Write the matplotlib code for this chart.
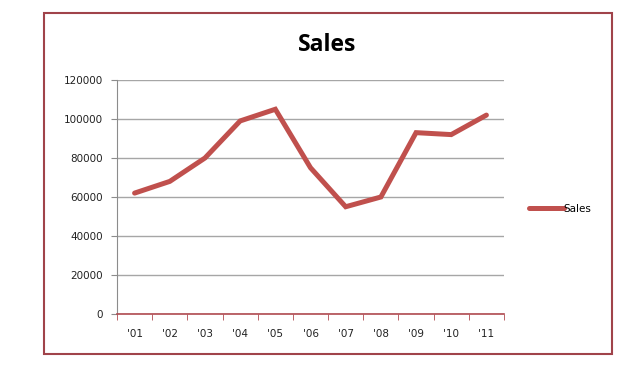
import matplotlib
matplotlib.use("Agg")
import matplotlib.pyplot as plt
from matplotlib.patches import Rectangle

years = ["'01", "'02", "'03", "'04", "'05", "'06", "'07", "'08", "'09", "'10", "'11"]
sales = [62000, 68000, 80000, 99000, 105000, 75000, 55000, 60000, 93000, 92000, 102000]
y_ticks = [0, 20000, 40000, 60000, 80000, 100000, 120000]

W, H = 635, 384
fig = plt.figure(figsize=(W / 100, H / 100), dpi=100)

# outer chart border
fig.patches.append(Rectangle((44 / W, 1 - 354 / H), (612 - 44) / W, (354 - 13) / H,
                             transform=fig.transFigure, fill=False,
                             edgecolor="#A0434A", linewidth=1.5))

ax = fig.add_axes([117 / W, 1 - 314 / H, (504 - 117) / W, (314 - 80) / H])
x = list(range(len(years)))
ax.plot(x, sales, color="#C0504D", linewidth=3.6, label="Sales",
        solid_capstyle="round", solid_joinstyle="miter")

ax.set_xlim(-0.5, len(years) - 0.5)
ax.set_ylim(0, 120000)
ax.set_yticks(y_ticks)
ax.set_yticklabels([str(v) for v in y_ticks])
ax.set_xticks(x)
ax.set_xticklabels(years)
ax.set_xticks([i - 0.5 for i in range(len(years) + 1)], minor=True)

ax.grid(axis="y", color="#A6A6A6", linewidth=1)
ax.set_axisbelow(True)
for s in ["top", "right"]:
    ax.spines[s].set_visible(False)
ax.spines["left"].set_color("#8C8C8C")
ax.spines["bottom"].set_color("#B04A50")
ax.spines["bottom"].set_linewidth(1.2)
ax.tick_params(axis="x", which="major", length=0, pad=11, labelsize=7.5, labelcolor="#222222")
ax.tick_params(axis="x", which="minor", length=4, color="#B04A50", direction="out")
ax.tick_params(axis="y", length=4, color="#8C8C8C", labelsize=7.5, pad=6, labelcolor="#222222")

fig.text(327 / W, 1 - 45 / H, "Sales", ha="center", va="center",
         fontsize=16.5, fontweight="bold", family="Open Sans")

ax.legend(loc="center left", bbox_to_anchor=(524 / W, 1 - 209 / H),
          bbox_transform=fig.transFigure, frameon=False, fontsize=7.5,
          handlelength=3.3, handletextpad=0.0, borderpad=0)

fig.savefig("out.png", dpi=100)
